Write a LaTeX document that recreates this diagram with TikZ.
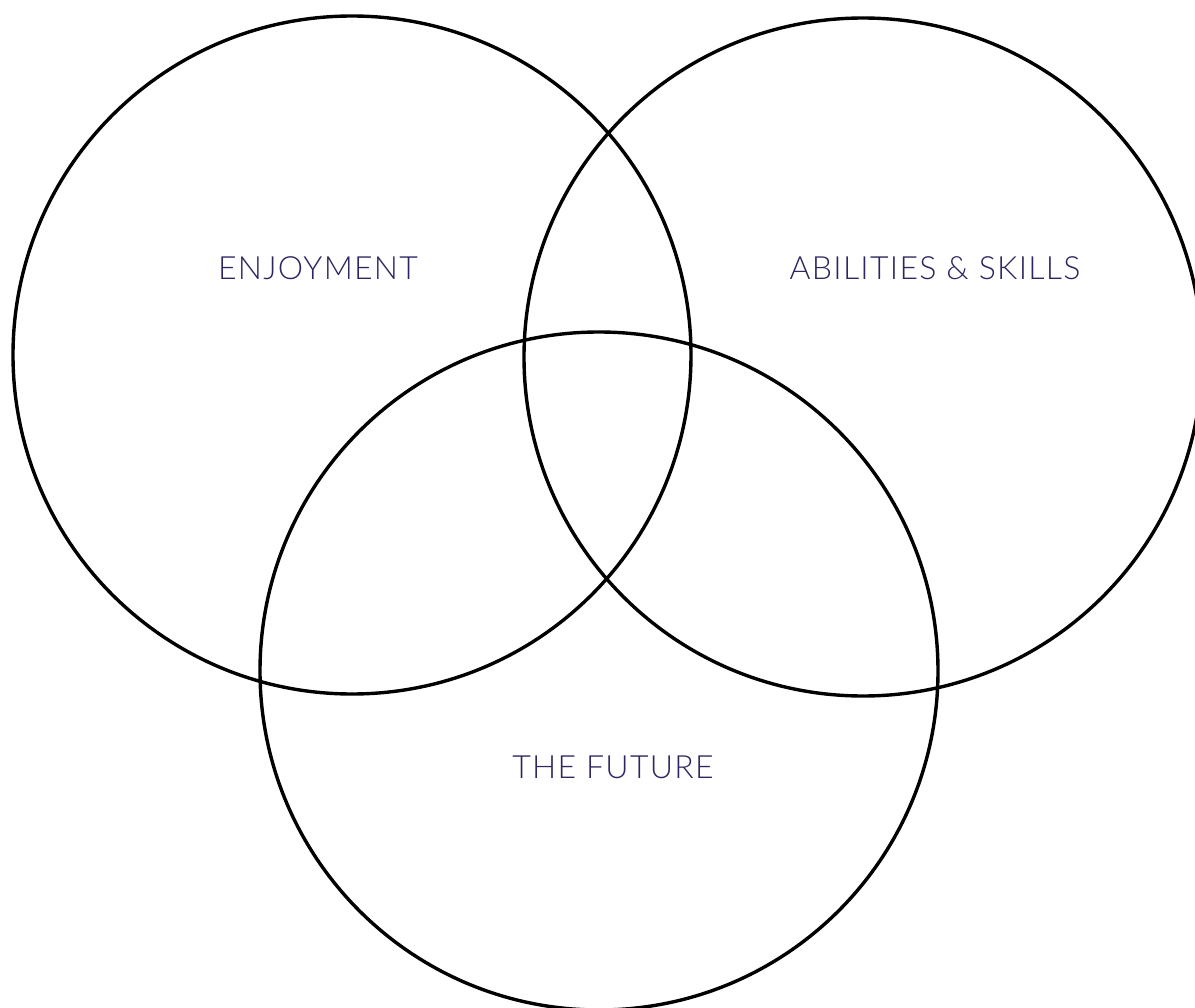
\documentclass[tikz,border=0pt]{standalone}
\usepackage{fontspec}
\setmainfont{Lato Light}
\definecolor{labelcol}{HTML}{2B2560}
\tikzset{
  venn/.style={draw=black, line width=3.4pt, circle, minimum size=678pt, inner sep=0pt},
  vlabel/.style={text=labelcol, font=\fontsize{32}{38}\selectfont, inner sep=0pt}
}
\begin{document}
\begin{tikzpicture}[x=1pt,y=-1pt]
\useasboundingbox (0,0) rectangle (1195,1008);
\clip (0,0) rectangle (1195,1008);
\node[venn] (enj) at (352,355) {};
\node[venn] (abi) at (863,357) {};
\node[venn] (fut) at (599,671) {};
\node[vlabel] (tenj) at (318,268) {\addfontfeatures{LetterSpace=4}ENJOYMENT};
\node[vlabel] (tabi) at (935,268) {\addfontfeatures{LetterSpace=4}ABILITIES \& SKILLS};
\node[vlabel] (tfut) at (613,767) {\addfontfeatures{LetterSpace=4}THE FUTURE};
\end{tikzpicture}
\end{document}
